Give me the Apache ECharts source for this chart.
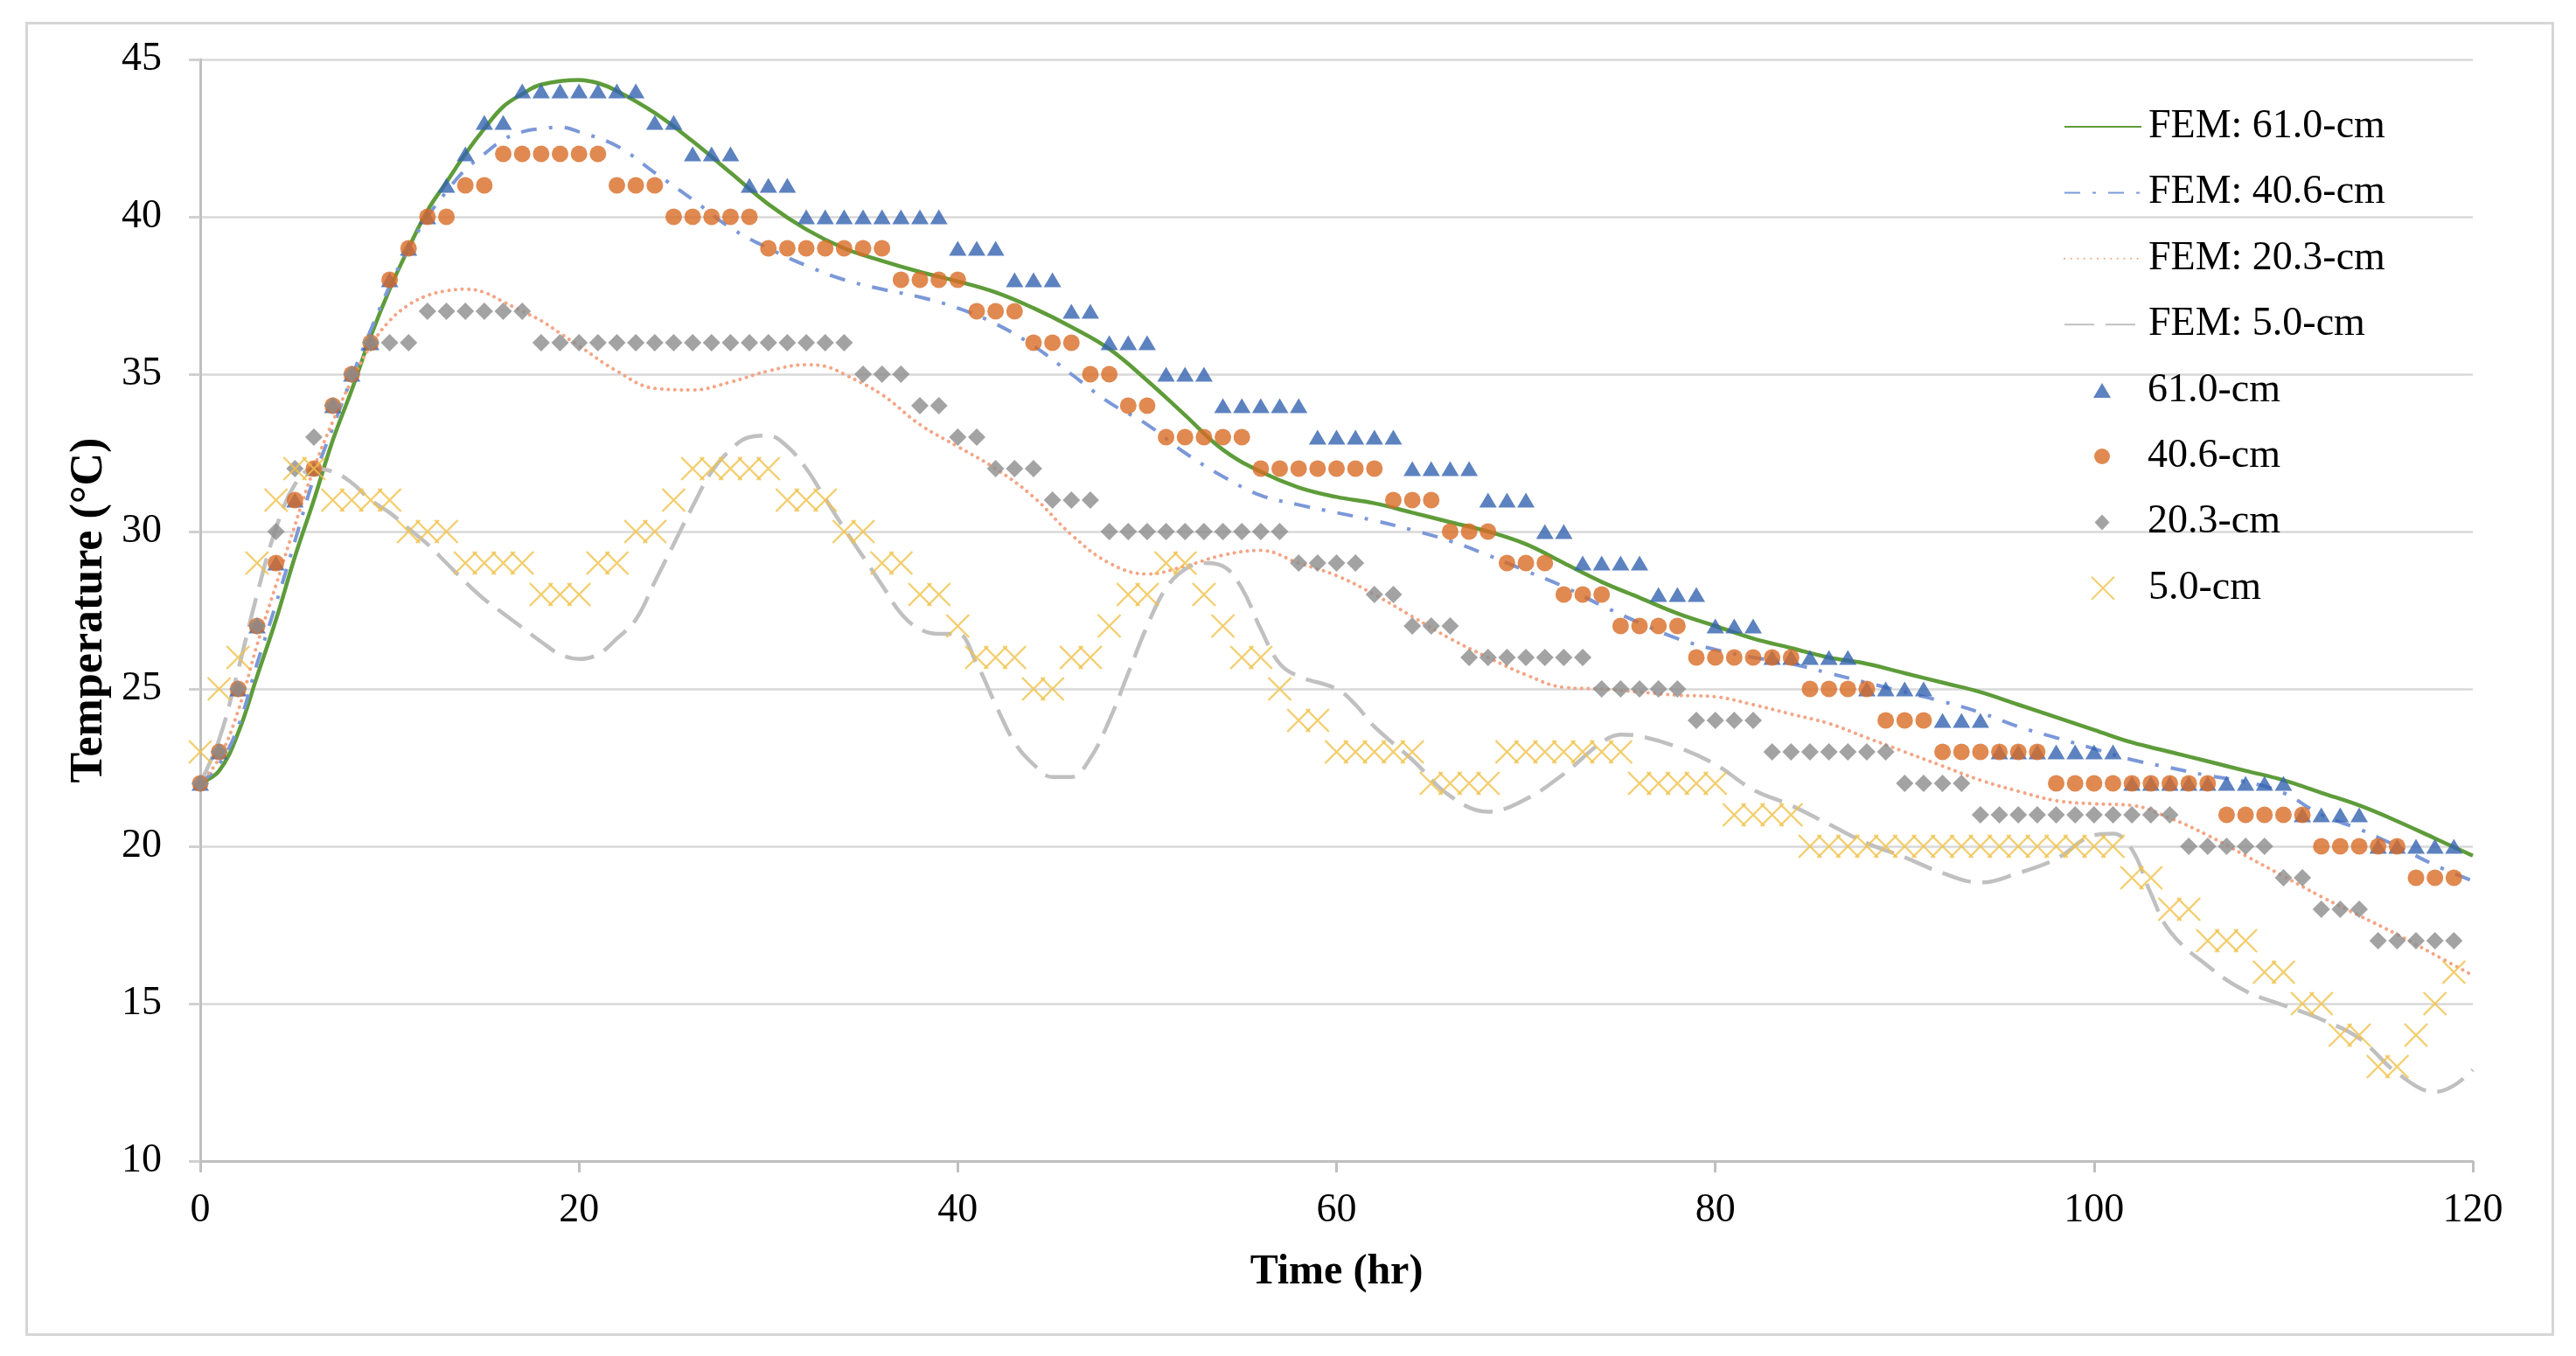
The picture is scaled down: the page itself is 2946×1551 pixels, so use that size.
<!DOCTYPE html>
<html><head><meta charset="utf-8">
<script src="https://cdn.jsdelivr.net/npm/echarts@6/dist/echarts.min.js"></script>
<style>html,body{margin:0;padding:0;background:#fff}#c{width:2946px;height:1551px}</style>
</head><body><div id="c"></div>
<script>
// ---- Measured data (hourly, 0..119 hr) ----
const hours = [0,1,2,3,4,5,6,7,8,9,10,11,12,13,14,15,16,17,18,19,20,21,22,23,24,25,26,27,28,29,30,31,32,33,34,35,36,37,38,39,40,41,42,43,44,45,46,47,48,49,50,51,52,53,54,55,56,57,58,59,60,61,62,63,64,65,66,67,68,69,70,71,72,73,74,75,76,77,78,79,80,81,82,83,84,85,86,87,88,89,90,91,92,93,94,95,96,97,98,99,100,101,102,103,104,105,106,107,108,109,110,111,112,113,114,115,116,117,118,119];

const obs610 = [22,23,25,27,29,31,32,34,35,36,38,39,40,41,42,43,43,
  44,44,44,44,44,44,44, 43,43, 42,42,42, 41,41,41, 40,40,40,40,40,40,40,40,
  39,39,39, 38,38,38, 37,37, 36,36,36, 35,35,35, 34,34,34,34,34, 33,33,33,33,33,
  32,32,32,32, 31,31,31, 30,30, 29,29,29,29, 28,28,28, 27,27,27, 26,26,26,26,26,
  25,25,25,25, 24,24,24, 23,23,23,23,23,23,23, 22,22,22,22,22,22,22,22,22,
  21,21,21,21, 20,20,20,20,20];

const obs406 = [22,23,25,27,29,31,32,34,35,36,38,39,40,40,41,41,
  42,42,42,42,42,42, 41,41,41, 40,40,40,40,40, 39,39,39,39,39,39,39, 38,38,38,38,
  37,37,37, 36,36,36, 35,35, 34,34, 33,33,33,33,33, 32,32,32,32,32,32,32,
  31,31,31, 30,30,30, 29,29,29, 28,28,28, 27,27,27,27, 26,26,26,26,26,26,
  25,25,25,25, 24,24,24, 23,23,23,23,23,23, 22,22,22,22,22,22,22,22,22,
  21,21,21,21,21, 20,20,20,20,20, 19,19,19];

const obs203 = [22,23,25,27,30,32,33,34,35,36,36,36,
  37,37,37,37,37,37, 36,36,36,36,36,36,36,36,36,36,36,36,36,36,36,36,36,
  35,35,35, 34,34, 33,33, 32,32,32, 31,31,31, 30,30,30,30,30,30,30,30,30,30,
  29,29,29,29, 28,28, 27,27,27, 26,26,26,26,26,26,26, 25,25,25,25,25, 24,24,24,24,
  23,23,23,23,23,23,23, 22,22,22,22, 21,21,21,21,21,21,21,21,21,21,21,
  20,20,20,20,20, 19,19, 18,18,18, 17,17,17,17,17];

const obs50 = [23,25,26,29,31,32,32, 31,31,31,31, 30,30,30, 29,29,29,29, 28,28,28,
  29,29, 30,30, 31, 32,32,32,32,32, 31,31,31, 30,30, 29,29, 28,28, 27, 26,26,26,
  25,25, 26,26, 27, 28,28, 29,29, 28, 27, 26,26, 25, 24,24, 23,23,23,23,23,
  22,22,22,22, 23,23,23,23,23,23,23, 22,22,22,22,22, 21,21,21,21,
  20,20,20,20,20,20,20,20,20,20,20,20,20,20,20,20,20, 19,19, 18,18, 17,17,17,
  16,16, 15,15, 14,14, 13,13, 14, 15, 16];

// ---- FEM model curves (sampled hours / temperatures) ----
const fem610H = [0,1,2,3,4,5,6,7,8,9,10,11,12,13,14,15,16,17,18,20,21,22,24,26,28,30,32,34,36,38,40,42,44,46,48,50,52,54,56,58,60,62,64,66,68,70,72,74,76,78,80,82,84,86,88,90,92,94,96,98,100,102,104,106,108,110,112,114,116,118,120];
const fem610T = [22.0,22.4,23.6,25.4,27.2,29.2,31.0,32.9,34.5,36.2,37.7,39.0,40.2,41.1,42.0,42.8,43.5,43.9,44.2,44.35,44.25,44.0,43.3,42.4,41.4,40.4,39.6,39.0,38.6,38.25,37.95,37.6,37.1,36.5,35.8,34.8,33.7,32.6,31.9,31.4,31.1,30.9,30.6,30.3,30.0,29.6,29.0,28.4,27.9,27.4,27.0,26.6,26.3,26.0,25.8,25.5,25.2,24.9,24.5,24.1,23.7,23.3,23.0,22.7,22.4,22.1,21.7,21.3,20.8,20.25,19.7];

const fem406H = [0,1,2,3,4,5,6,7,8,9,10,11,12,13,14,15,16,17,18,19,20,22,24,26,28,30,32,34,36,38,40,42,44,46,48,50,52,54,56,58,60,62,64,66,68,70,72,74,76,78,80,82,84,86,88,90,92,94,96,98,100,102,104,106,108,110,112,114,116,118,120];
const fem406T = [22.0,22.6,23.8,25.8,27.7,29.7,31.7,33.3,34.9,36.4,37.8,39.0,40.0,40.8,41.5,42.0,42.45,42.7,42.8,42.85,42.7,42.25,41.4,40.55,39.65,39.0,38.45,38.0,37.7,37.45,37.1,36.6,35.9,35.0,34.1,33.4,32.5,31.75,31.15,30.85,30.6,30.35,30.05,29.7,29.25,28.75,28.25,27.65,27.1,26.6,26.25,26.0,25.8,25.5,25.2,24.9,24.6,24.25,23.8,23.45,23.1,22.75,22.5,22.25,22.05,21.7,21.0,20.55,20.0,19.4,18.9];

const fem203H = [0,1,2,3,4,5,6,7,8,9,10,11,12,13,14,15,16,17,18,19,20,22,24,26,28,30,32,33,34,36,38,40,42,44,46,48,50,52,54,56,58,60,62,64,66,68,70,72,74,76,78,80,82,84,86,88,90,92,94,96,98,100,102,104,106,108,110,112,114,116,118,120];
const fem203T = [22.0,22.8,24.3,26.4,28.3,30.2,32.0,33.5,34.8,35.9,36.7,37.2,37.5,37.65,37.7,37.6,37.3,37.0,36.7,36.3,35.9,35.1,34.55,34.5,34.75,35.1,35.3,35.25,35.0,34.35,33.4,32.7,32.0,31.1,29.9,29.0,28.65,28.9,29.25,29.4,29.0,28.6,28.0,27.3,26.6,26.0,25.45,25.05,25.0,24.9,24.8,24.75,24.5,24.2,23.9,23.45,23.0,22.55,22.1,21.75,21.45,21.35,21.3,20.9,20.35,19.7,19.05,18.4,17.8,17.2,16.55,15.9];

const fem50H = [0,1,2,3,4,5,6,7,8,9,10,11,12,13,14,15,16,17,18,19,20,21,22,23,24,25,26,27,28,29,30,31,32,33,34,35,36,37,38,39,40,41,42,43,44,45,46,47,48,49,50,51,52,53,54,55,56,57,58,60,61,62,64,66,68,70,72,74,75,76,78,80,82,84,86,88,90,92,94,96,98,100,101,102,103,104,106,108,110,112,114,116,118,119,120];
const fem50T = [22.0,23.4,25.6,28.0,30.1,31.5,32.0,31.9,31.55,31.0,30.6,30.1,29.6,29.0,28.4,27.85,27.4,26.95,26.5,26.1,25.95,26.1,26.6,27.2,28.4,29.6,30.8,31.9,32.6,33.0,33.05,32.7,32.0,31.05,30.1,29.2,28.3,27.4,26.9,26.75,26.75,25.8,24.5,23.3,22.6,22.2,22.2,22.8,24.0,25.5,27.0,28.2,28.8,29.0,28.9,28.2,26.9,25.8,25.4,25.0,24.5,23.8,22.75,21.6,21.1,21.5,22.3,23.3,23.55,23.5,23.15,22.6,21.8,21.3,20.7,20.1,19.65,19.15,18.85,19.15,19.6,20.35,20.4,19.9,18.5,17.3,16.2,15.4,14.95,14.5,13.9,12.8,12.2,12.4,12.9];

// ---- Axis ticks & names ----
const xTicks = [0,20,40,60,80,100,120];
const yTicks = [10,15,20,25,30,35,40,45];
const seriesNames = ['FEM: 61.0-cm','FEM: 40.6-cm','FEM: 20.3-cm','FEM: 5.0-cm','61.0-cm','40.6-cm','20.3-cm','5.0-cm'];

const pair = (xs, ys) => xs.map((x, i) => [x, ys[i]]);
const FONT = 'Liberation Serif, Times New Roman, serif';

const chart = echarts.init(document.getElementById('c'), null, {renderer: 'canvas'});

const lineSeries = (name, xs, ys, color, width, type, cap) => ({
  name, type: 'line', data: pair(xs, ys), symbol: 'none', smooth: 0.4,
  lineStyle: {color, width, type, cap: cap || 'butt'},
  itemStyle: {color}, z: 2, silent: true
});

// legend icons (wide boxes so the marker sits centred in the 88px legend slot)
const legendIcons = [null, null, null, null,
  'path://M0,0L0,0M88,17L88,17M34,17L44,0L54,17Z',
  'path://M0,0L0,0M88,18L88,18M35,9A9,9,0,1,1,53,9A9,9,0,1,1,35,9Z',
  'path://M0,0L0,0M88,18L88,18M44,0L52.5,9L44,18L35.5,9Z',
  'path://M0,0L0,0M88,26L88,26M31,0L57,26M57,0L31,26'];
const legendIconH = [20, 20, 20, 20, 17, 18, 18, 26];
const legends = seriesNames.map((n, i) => {
  const lg = {
    data: [legendIcons[i] ? {name: n, icon: legendIcons[i]} : {name: n}],
    orient: 'vertical', left: 2360, top: 145 + i * 75.4 - 23,
    itemWidth: 88, itemHeight: legendIconH[i], itemGap: 0, selectedMode: false, padding: 0,
    textStyle: {fontFamily: FONT, fontSize: 46, color: '#000', lineHeight: 46, padding: [0, 0, 0, 3]}
  };
  if (!legendIcons[i]) lg.itemStyle = {color: 'rgba(0,0,0,0)', borderWidth: 0, borderColor: 'rgba(0,0,0,0)'};
  return lg;
});

const option = {
  animation: false,
  backgroundColor: '#fff',
  grid: {left: 229, right: 118, top: 68, bottom: 223, containLabel: false},
  legend: legends,
  xAxis: {
    type: 'value', min: 0, max: 120, interval: 20,
    name: 'Time (hr)', nameLocation: 'middle', nameGap: 104,
    nameTextStyle: {fontFamily: FONT, fontSize: 48, fontWeight: 'bold', color: '#000'},
    axisLine: {show: true, lineStyle: {color: '#BFBFBF', width: 3}},
    axisTick: {show: true, length: 13, lineStyle: {color: '#BFBFBF', width: 3}},
    axisLabel: {fontFamily: FONT, fontSize: 46, color: '#000', margin: 34,
      formatter: v => xTicks.includes(v) ? String(v) : ''},
    splitLine: {show: false}
  },
  yAxis: {
    type: 'value', min: 10, max: 45, interval: 5,
    name: 'Temperature (°C)', nameLocation: 'middle', nameGap: 96,
    nameTextStyle: {fontFamily: FONT, fontSize: 52, fontWeight: 'bold', color: '#000'},
    axisLine: {show: true, lineStyle: {color: '#BFBFBF', width: 3}},
    axisTick: {show: true, length: 13, lineStyle: {color: '#D0D0D0', width: 3}},
    axisLabel: {fontFamily: FONT, fontSize: 46, color: '#000', margin: 44,
      formatter: v => yTicks.includes(v) ? String(v) : ''},
    splitLine: {show: true, lineStyle: {color: '#D9D9D9', width: 2.5}}
  },
  graphic: [{
    type: 'rect', left: 28, top: 24, z: -1, silent: true,
    shape: {width: 2889, height: 1500},
    style: {fill: 'none', stroke: '#D6D6D6', lineWidth: 3}
  }],
  series: [
    lineSeries(seriesNames[0], fem610H, fem610T, '#5E9C3A', 4.5, 'solid'),
    lineSeries(seriesNames[1], fem406H, fem406T, '#7B98D8', 4, [18, 14, 4, 14]),
    lineSeries(seriesNames[2], fem203H, fem203T, '#F4A585', 4, [0.1, 7.5], 'round'),
    lineSeries(seriesNames[3], fem50H, fem50T, '#C0C0C0', 4.5, [34, 13]),
    {name: seriesNames[4], type: 'scatter', data: pair(hours, obs610), symbol: 'triangle',
      symbolSize: [20, 17], itemStyle: {color: '#3563B0'}, z: 3, silent: true},
    {name: seriesNames[5], type: 'scatter', data: pair(hours, obs406), symbol: 'circle',
      symbolSize: 19, itemStyle: {color: '#D86C26'}, z: 3, silent: true},
    {name: seriesNames[6], type: 'scatter', data: pair(hours, obs203), symbol: 'diamond',
      symbolSize: [20, 20], itemStyle: {color: '#8C8C8C'}, z: 3, silent: true},
    {name: seriesNames[7], type: 'scatter', data: pair(hours, obs50), symbol: 'path://M0,0L10,10M10,0L0,10',
      symbolSize: 26, itemStyle: {color: 'rgba(0,0,0,0)', borderColor: '#F0C24A', borderWidth: 2.4}, z: 3, silent: true}
  ]
};
chart.setOption(option);
</script>
</body></html>
